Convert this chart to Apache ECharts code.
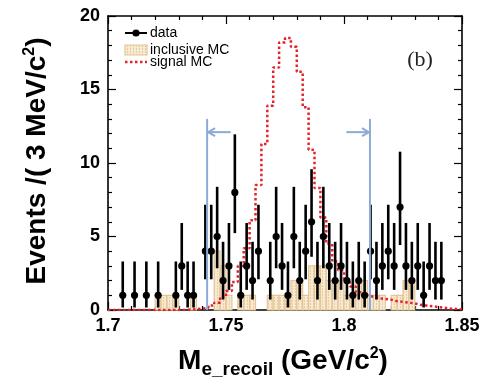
<!DOCTYPE html>
<html>
<head>
<meta charset="utf-8">
<script src="https://cdn.jsdelivr.net/npm/echarts@6/dist/echarts.min.js"></script>
<style>
  html, body { margin: 0; padding: 0; background: #fff; }
  #chart { width: 488px; height: 381px; }
</style>
</head>
<body>
<div id="chart"></div>
<script>
var xMin = 1.70, xMax = 1.85, binWidth = 0.0025;
var xTicks = [1.7, 1.75, 1.8, 1.85];
var yTicks = [0, 5, 10, 15, 20];

// events per bin, 60 bins from 1.70 to 1.85
var dataCounts = [
  0, 0, 1, 0, 1, 0, 1, 0, 1, 0,
  0, 1, 3, 1, 1, 0, 4, 4, 5, 2,
  3, 8, 1, 3, 2, 4, 0, 2, 5, 3,
  1, 5, 2, 4, 6, 2, 5, 3, 2, 3,
  2, 1, 2, 1, 4, 2, 3, 4, 3, 7,
  3, 2, 3, 1, 3, 2, 2, 0, 0, 0
];
var inclusiveMC = [
  0, 0, 0, 0, 0, 0, 0, 0, 1, 1,
  1, 1, 0, 0, 1, 0, 0, 0, 4, 3,
  1, 0, 1, 1, 1, 0, 0, 1, 1, 1,
  1, 2, 2, 1, 3, 3, 3, 2, 2, 2,
  1, 1, 2, 2, 1, 1, 1, 0, 1, 1,
  2, 2, 0, 0, 0, 0, 0, 0, 0, 0
];
var signalMC = [
  0, 0, 0, 0, 0, 0, 0, 0, 0, 0,
  0, 0, 0, 0.03, 0.05, 0.1, 0.15, 0.3, 0.5, 0.9,
  1.3, 1.9, 3.0, 4.2, 6.1, 8.5, 11.3, 13.9, 16.5, 18.2,
  18.5, 17.9, 16.2, 13.8, 10.9, 8.3, 6.3, 4.5, 3.3, 2.7,
  2.0, 1.6, 1.2, 1.0, 0.9, 0.8, 0.75, 0.7, 0.6, 0.55,
  0.5, 0.45, 0.35, 0.3, 0.25, 0.2, 0.15, 0.1, 0.07, 0.05
];
// error bar ends by count
var errLow  = [0, 0.17, 0.71, 1.37, 2.09, 2.84, 3.62, 4.42, 5.23];
var errHigh = [1.84, 3.30, 4.64, 5.92, 7.16, 8.38, 9.58, 10.77, 11.95];

// signal window cuts: [x, lineTop, arrowTail, arrowY]
var cuts = [
  [1.742, 13.0, 1.752, 12.1],
  [1.811, 13.0, 1.801, 12.1]
];

var FONT = '"Liberation Sans", Arial, Helvetica, sans-serif';
var TAN = '#e3c596';

// dotted tan fill used by ROOT hatch
var pat = document.createElement('canvas');
pat.width = 3; pat.height = 3;
var pctx = pat.getContext('2d');
pctx.fillStyle = '#f8e9d3';
pctx.fillRect(0, 0, 3, 3);
pctx.fillStyle = '#e9cc9f';
pctx.fillRect(1, 0, 1, 2);
var hatch = { type: 'pattern', image: pat, repeat: 'repeat' };

var dataPts = [], mcBins = [], sigLine = [];
for (var i = 0; i < dataCounts.length; i++) {
  var lo = xMin + i * binWidth;
  var n = dataCounts[i];
  if (n > 0) dataPts.push([lo + binWidth / 2, n, errLow[n], errHigh[n]]);
  if (inclusiveMC[i] > 0) mcBins.push([lo, lo + binWidth, inclusiveMC[i]]);
  sigLine.push([lo, signalMC[i]]);
}
sigLine.push([xMax, signalMC[signalMC.length - 1]]);

var chart = echarts.init(document.getElementById('chart'));

function axisBase(pos, showLabel, isX) {
  return {
    type: 'value',
    position: pos,
    min: isX ? xMin : 0,
    max: isX ? xMax : 20,
    interval: isX ? 0.05 : 5,
    axisLine: { show: true, onZero: false, lineStyle: { color: '#000', width: 1.6 } },
    axisTick: { show: true, inside: true, length: 8, lineStyle: { color: '#000', width: 1.2 } },
    minorTick: { show: true, splitNumber: 5, length: 4, lineStyle: { color: '#000', width: 1.2 } },
    splitLine: { show: false },
    axisLabel: {
      show: showLabel,
      color: '#000',
      fontFamily: FONT,
      fontWeight: 'bold',
      fontSize: 18,
      margin: isX ? 7 : 8
    }
  };
}

// text measuring for the composed axis titles
var mctx = document.createElement('canvas').getContext('2d');
function tw(s, f) { mctx.font = f; return mctx.measureText(s).width; }

function chain(parts, cx, cy) {
  var total = 0;
  parts.forEach(function (p) { p.w = tw(p.t, p.f); total += p.w; });
  var x = cx - total / 2, out = [];
  parts.forEach(function (p) {
    out.push({
      type: 'text', x: x, y: cy + p.dy,
      style: { text: p.t, font: p.f, fill: '#000', textAlign: 'left', textVerticalAlign: 'middle', align: 'left', verticalAlign: 'middle' }
    });
    x += p.w;
  });
  return out;
}

var big = 'bold 28px ' + FONT;
var xTitle = chain([
  { t: 'M', f: big, dy: 0 },
  { t: 'e_recoil', f: 'bold 19px ' + FONT, dy: 9 },
  { t: ' (GeV/c', f: big, dy: 0 },
  { t: '2', f: 'bold 16px ' + FONT, dy: -7 },
  { t: ')', f: big, dy: 0 }
], 283, 361);

var yTitle = chain([
  { t: 'Events /( 3 MeV/c', f: big, dy: 0 },
  { t: '2', f: 'bold 16px ' + FONT, dy: -7 },
  { t: ')', f: big, dy: 0 }
], 0, 0);

var legendX = 125, legendW = 22;
var legendText = { font: '14px ' + FONT, fill: '#000', textAlign: 'left', textVerticalAlign: 'middle', align: 'left', verticalAlign: 'middle' };

chart.setOption({
  animation: false,
  backgroundColor: '#fff',
  grid: { left: 108, right: 26, top: 16, bottom: 71 },
  xAxis: [axisBase('bottom', true, true), axisBase('top', false, true)],
  yAxis: [axisBase('left', true, false), axisBase('right', false, false)],
  series: [
    {
      name: 'inclusive MC',
      type: 'custom',
      z: 1,
      data: mcBins,
      renderItem: function (params, api) {
        var p0 = api.coord([api.value(0), api.value(2)]);
        var p1 = api.coord([api.value(1), 0]);
        return {
          type: 'rect',
          shape: { x: p0[0], y: p0[1], width: p1[0] - p0[0], height: p1[1] - p0[1] },
          style: { fill: hatch, stroke: TAN, lineWidth: 1.2 }
        };
      }
    },
    {
      name: 'signal MC',
      type: 'line',
      z: 2,
      step: 'end',
      symbol: 'none',
      data: sigLine,
      lineStyle: { color: '#e3232c', width: 2.5, type: [2.5, 2.5] }
    },
    {
      name: 'data',
      type: 'custom',
      z: 3,
      data: dataPts,
      renderItem: function (params, api) {
        var c = api.coord([api.value(0), api.value(1)]);
        var lo = api.coord([api.value(0), api.value(2)]);
        var hi = api.coord([api.value(0), api.value(3)]);
        return {
          type: 'group',
          children: [
            { type: 'line', shape: { x1: c[0], y1: lo[1], x2: c[0], y2: hi[1] }, style: { stroke: '#000', lineWidth: 2.6 } },
            { type: 'circle', shape: { cx: c[0], cy: c[1], r: 3.6 }, style: { fill: '#000' } }
          ]
        };
      }
    },
    {
      name: 'cuts',
      type: 'custom',
      z: 4,
      data: cuts,
      renderItem: function (params, api) {
        var base = api.coord([api.value(0), 0]);
        var top = api.coord([api.value(0), api.value(1)]);
        var tail = api.coord([api.value(2), api.value(3)]);
        var tipY = tail[1];
        var dir = tail[0] > base[0] ? 1 : -1;
        var st = { stroke: '#8eaad8', lineWidth: 2, fill: null };
        return {
          type: 'group',
          children: [
            { type: 'line', shape: { x1: base[0], y1: base[1], x2: top[0], y2: top[1] }, style: st },
            { type: 'line', shape: { x1: base[0], y1: tipY, x2: tail[0], y2: tipY }, style: st },
            { type: 'polyline', shape: { points: [[base[0] + dir * 8, tipY - 4], [base[0] + dir * 1, tipY], [base[0] + dir * 8, tipY + 4]] }, style: st }
          ]
        };
      }
    }
  ],
  graphic: [
    { type: 'group', x: 37, y: 161, rotation: Math.PI / 2, children: yTitle },
    { type: 'group', children: xTitle },
    {
      type: 'text', x: 420, y: 60,
      style: { text: '(b)', font: '22px "Liberation Serif", "DejaVu Serif", serif', fill: '#222', textAlign: 'center', textVerticalAlign: 'middle', align: 'center', verticalAlign: 'middle' }
    },
    // legend
    { type: 'line', shape: { x1: legendX, y1: 33, x2: legendX + legendW, y2: 33 }, style: { stroke: '#000', lineWidth: 2 } },
    { type: 'circle', shape: { cx: legendX + legendW / 2, cy: 33, r: 3.6 }, style: { fill: '#000' } },
    { type: 'text', x: 150, y: 33, style: Object.assign({ text: 'data' }, legendText) },
    { type: 'rect', shape: { x: legendX, y: 45, width: legendW, height: 10 }, style: { fill: hatch, stroke: TAN, lineWidth: 1.2 } },
    { type: 'text', x: 150, y: 50, style: Object.assign({ text: 'inclusive MC' }, legendText) },
    { type: 'line', shape: { x1: legendX, y1: 62, x2: legendX + legendW, y2: 62 }, style: { stroke: '#e3232c', lineWidth: 2.5, lineDash: [2.5, 2.5] } },
    { type: 'text', x: 150, y: 62, style: Object.assign({ text: 'signal MC' }, legendText) }
  ]
});
</script>
</body>
</html>
